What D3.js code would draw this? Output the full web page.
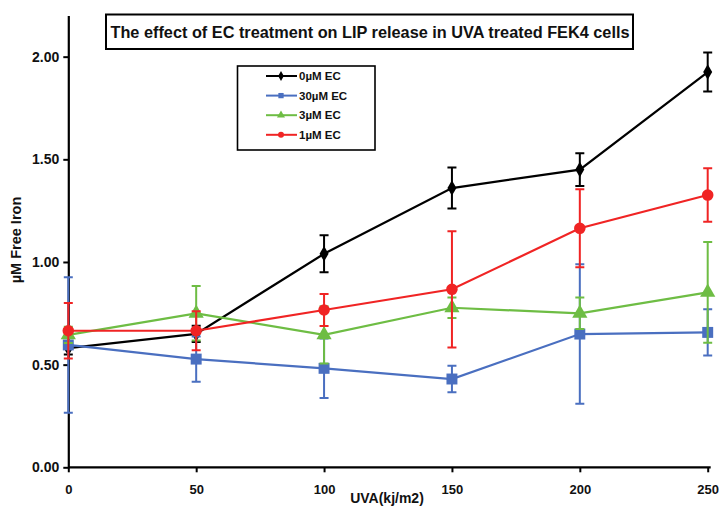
<html>
<script src="https://d3js.org/d3.v7.min.js"></script>
<style>
body{
    margin:0;
    background:#fff;
}
text{
    font-family:"Liberation Sans", Arial, sans-serif;
    font-weight:bold;
}
</style>
<body>
<div class="chart"></div>
</body>
<script>
const width = 721;
const height = 507;

// UVA dose (kJ/m2)
const doses = [0, 50, 100, 150, 200, 250];

const seriesNames = ['0µM EC', '30µM EC', '3µM EC', '1µM EC'];
const seriesColors = ['#000000', '#4a6fc0', '#6ebd44', '#f02424'];
const seriesShapes = ['diamond', 'square', 'triangle', 'circle'];

// mean free iron (µM)
const ec0Mean = [0.58, 0.65, 1.04, 1.36, 1.45, 1.925];
const ec30Mean = [0.596, 0.527, 0.482, 0.43, 0.649, 0.657];
const ec3Mean = [0.645, 0.75, 0.645, 0.777, 0.75, 0.852];
const ec1Mean = [0.665, 0.665, 0.766, 0.867, 1.164, 1.326];

// error bar half-lengths
const ec0Err = [0.03, 0.04, 0.09, 0.10, 0.08, 0.095];
const ec30Err = [0.33, 0.11, 0.145, 0.065, 0.34, 0.113];
const ec3Err = [0.04, 0.133, 0.14, 0.05, 0.077, 0.245];
const ec1Err = [0.135, 0.095, 0.078, 0.283, 0.19, 0.13];

const yTicks = [0, 0.5, 1, 1.5, 2];
const title = 'The effect of EC treatment on LIP release in UVA treated FEK4 cells';
const xTitle = 'UVA(kj/m2)';
const yTitle = 'µM Free Iron';

const means = [ec0Mean, ec30Mean, ec3Mean, ec1Mean];
const errs = [ec0Err, ec30Err, ec3Err, ec1Err];

const series = seriesNames.map((name, i) => ({
    name: name,
    color: seriesColors[i],
    shape: seriesShapes[i],
    points: doses.map((d, j) => ({x: d, y: means[i][j], e: errs[i][j]}))
}));

const xScale = d3.scaleLinear()
    .domain([0, 250])
    .range([68.3, 707.7]);

const yScale = d3.scaleLinear()
    .domain([0, 2.2])
    .range([467.3, 15.6]);

const symbolFor = (shape, size) => {
    const types = {
        diamond: d3.symbolDiamond,
        square: d3.symbolSquare,
        triangle: d3.symbolTriangle,
        circle: d3.symbolCircle
    };
    return d3.symbol().type(types[shape]).size(size)();
};
const markerSize = {diamond: 70, square: 120, triangle: 100, circle: 105};

const svg = d3.select('.chart')
    .append('svg')
        .attr('width', width)
        .attr('height', height);

// axes
svg.append('g')
    .attr('transform', `translate(${xScale(0)},0)`)
    .call(d3.axisLeft(yScale).tickValues(yTicks).tickFormat(d3.format('.2f')).tickSize(5).tickSizeOuter(0).tickPadding(4))
    .call(g => {
        g.select('.domain').attr('stroke-width', 2.2);
        g.selectAll('.tick line').attr('stroke-width', 2);
        g.selectAll('.tick text').attr('font-size', 14).attr('font-family', '"Liberation Sans", Arial').attr('font-weight', 'bold').attr('fill', '#111');
    });

svg.append('g')
    .attr('transform', `translate(0,${yScale(0)})`)
    .call(d3.axisBottom(xScale).tickValues(doses).tickSize(5).tickSizeOuter(0).tickPadding(12))
    .call(g => {
        g.select('.domain').attr('d', `M${xScale(0)},0H${xScale(250) + 3}`).attr('stroke-width', 2.2);
        g.selectAll('.tick line').attr('stroke-width', 2);
        g.selectAll('.tick text').attr('font-size', 13).attr('font-family', '"Liberation Sans", Arial').attr('font-weight', 'bold').attr('fill', '#111');
    });

svg.append('text')
    .attr('x', 387)
    .attr('y', 503)
    .attr('text-anchor', 'middle')
    .attr('font-size', 14)
    .attr('fill', '#111')
    .text(xTitle);

svg.append('text')
    .attr('transform', 'translate(21,240) rotate(-90)')
    .attr('text-anchor', 'middle')
    .attr('font-size', 14.5)
    .attr('fill', '#111')
    .text(yTitle);

// series
const line = d3.line()
    .x(d => xScale(d.x))
    .y(d => yScale(d.y));

const groups = svg.selectAll('g.series')
    .data(series)
    .enter()
    .append('g')
        .attr('class', 'series');

groups.each(function(s){
    const g = d3.select(this);
    g.selectAll('path.err')
        .data(s.points)
        .enter()
        .append('path')
            .attr('class', 'err')
            .attr('d', d => {
                const x = xScale(d.x);
                const y0 = yScale(d.y - d.e);
                const y1 = yScale(d.y + d.e);
                return `M${x},${y0}V${y1}M${x - 4.5},${y0}H${x + 4.5}M${x - 4.5},${y1}H${x + 4.5}`;
            })
            .attr('fill', 'none')
            .attr('stroke', s.color)
            .attr('stroke-width', 2);

    g.append('path')
        .attr('d', line(s.points))
        .attr('fill', 'none')
        .attr('stroke', s.color)
        .attr('stroke-width', 2.2);

    g.selectAll('path.mark')
        .data(s.points)
        .enter()
        .append('path')
            .attr('class', 'mark')
            .attr('transform', d => `translate(${xScale(d.x)},${yScale(d.y)})`)
            .attr('d', symbolFor(s.shape, markerSize[s.shape]))
            .attr('fill', s.color);
});

// title box
svg.append('rect')
    .attr('x', 106)
    .attr('y', 14.5)
    .attr('width', 527)
    .attr('height', 34.5)
    .attr('fill', '#fff')
    .attr('stroke', '#000')
    .attr('stroke-width', 2);

svg.append('text')
    .attr('x', 370)
    .attr('y', 37.5)
    .attr('text-anchor', 'middle')
    .attr('font-size', 16.3)
    .attr('fill', '#111')
    .text(title);

// legend
const legend = svg.append('g');
legend.append('rect')
    .attr('x', 237.5)
    .attr('y', 66)
    .attr('width', 137.5)
    .attr('height', 84)
    .attr('fill', '#fff')
    .attr('stroke', '#000')
    .attr('stroke-width', 1.6);

const legendItems = legend.selectAll('g.item')
    .data(series)
    .enter()
    .append('g')
        .attr('class', 'item')
        .attr('transform', (d, i) => `translate(0,${76 + i * 19.6})`);

legendItems.append('line')
    .attr('x1', 266)
    .attr('x2', 297)
    .attr('stroke', d => d.color)
    .attr('stroke-width', 2);

legendItems.append('path')
    .attr('transform', 'translate(281,0)')
    .attr('d', d => symbolFor(d.shape, 28))
    .attr('fill', d => d.color);

legendItems.append('text')
    .attr('x', 299)
    .attr('y', 4)
    .attr('font-size', 11.5)
    .attr('fill', '#111')
    .text(d => d.name);
</script>
</html>
